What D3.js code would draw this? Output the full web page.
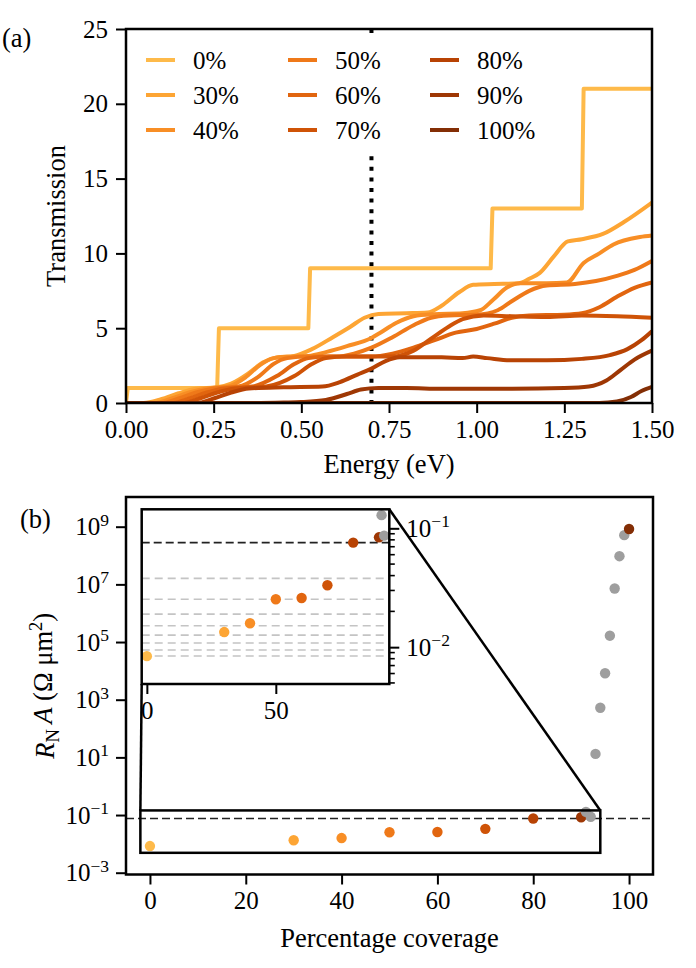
<!DOCTYPE html>
<html>
<head>
<meta charset="utf-8">
<script src="https://cdn.jsdelivr.net/npm/d3@7"></script>
<style>
  body { margin: 0; background: #fff; }
</style>
</head>
<body>
<svg id="fig" width="696" height="968"></svg>
<script>
// ---- data: panel (a), transmission vs energy, [energy (eV), T] ----
const coverageLabels = ["0%", "30%", "40%", "50%", "60%", "70%", "80%", "90%", "100%"];

const trans0 = [[0,0],[0.005,1],[0.26,1],[0.265,5],[0.52,5],[0.525,9],[1.04,9],[1.045,13],[1.30,13],[1.305,21],[1.5,21]];
const trans30 = [[0,0],[0.05,0],[0.1,0.25],[0.15,0.65],[0.2,0.95],[0.26,1.05],[0.3,1.3],[0.35,2.0],[0.39,2.7],[0.43,3.05],[0.48,3.15],[0.53,3.6],[0.59,4.4],[0.64,5.1],[0.68,5.7],[0.72,5.95],[0.8,6.0],[0.86,6.05],[0.9,6.5],[0.95,7.4],[0.99,7.9],[1.05,7.95],[1.12,8.0],[1.15,8.3],[1.18,8.7],[1.22,9.8],[1.26,10.8],[1.3,10.95],[1.36,11.3],[1.42,12.1],[1.5,13.4]];
const trans40 = [[0,0],[0.08,0],[0.13,0.3],[0.18,0.7],[0.23,0.97],[0.29,1.1],[0.34,1.7],[0.38,2.5],[0.42,3.0],[0.47,3.1],[0.52,3.15],[0.57,3.4],[0.63,3.8],[0.7,4.35],[0.724,4.68],[0.77,5.35],[0.82,5.8],[0.876,5.94],[0.96,6.0],[1.01,6.2],[1.047,6.9],[1.085,7.7],[1.124,8.0],[1.2,8.0],[1.257,8.05],[1.305,9.36],[1.35,10.0],[1.39,10.6],[1.466,11.1],[1.5,11.2]];
const trans50 = [[0,0],[0.1,0],[0.15,0.3],[0.2,0.7],[0.25,0.97],[0.32,1.1],[0.38,1.8],[0.42,2.6],[0.46,3.0],[0.52,3.1],[0.6,3.1],[0.65,3.3],[0.7,3.7],[0.76,4.4],[0.82,5.2],[0.87,5.7],[0.92,5.85],[1.0,5.9],[1.06,6.2],[1.1,6.8],[1.15,7.5],[1.2,7.85],[1.28,7.95],[1.34,8.15],[1.4,8.5],[1.45,8.9],[1.5,9.5]];
const trans60 = [[0,0],[0.13,0],[0.18,0.3],[0.23,0.7],[0.28,0.97],[0.36,1.1],[0.43,1.8],[0.48,2.6],[0.52,3.0],[0.58,3.1],[0.7,3.1],[0.76,3.3],[0.82,3.7],[0.88,4.2],[0.94,4.7],[1.0,4.95],[1.05,5.3],[1.1,5.7],[1.15,5.85],[1.25,5.9],[1.3,6.0],[1.35,6.4],[1.4,7.1],[1.45,7.7],[1.5,8.06]];
const trans70 = [[0,0],[0.16,0],[0.21,0.3],[0.26,0.7],[0.31,0.97],[0.4,1.1],[0.48,1.8],[0.53,2.6],[0.57,3.0],[0.63,3.1],[0.76,3.1],[0.82,3.5],[0.87,4.3],[0.92,5.1],[0.96,5.6],[1.02,5.85],[1.1,5.8],[1.2,5.75],[1.3,5.85],[1.4,5.8],[1.5,5.7]];
const trans80 = [[0,0],[0.2,0],[0.25,0.3],[0.3,0.7],[0.35,0.97],[0.45,1.05],[0.56,1.1],[0.61,1.4],[0.66,1.9],[0.7,2.3],[0.74,2.8],[0.78,3.05],[0.9,3.05],[0.96,3.0],[0.99,3.1],[1.03,3.0],[1.1,2.85],[1.2,2.85],[1.3,2.95],[1.38,3.2],[1.43,3.6],[1.47,4.2],[1.5,4.8]];
const trans90 = [[0,0],[0.35,0],[0.45,0.03],[0.5,0.06],[0.57,0.2],[0.63,0.6],[0.67,0.9],[0.72,1.0],[0.8,1.0],[0.9,0.95],[1.1,0.95],[1.25,1.0],[1.32,1.1],[1.37,1.5],[1.41,2.2],[1.45,2.9],[1.5,3.5]];
const trans100 = [[0,0],[1.35,0],[1.4,0.1],[1.44,0.4],[1.47,0.8],[1.5,1.07]];
const transSeries = [trans0, trans30, trans40, trans50, trans60, trans70, trans80, trans90, trans100];

const energyTicks = [0, 0.25, 0.5, 0.75, 1.0, 1.25, 1.5];
const transTicks = [0, 5, 10, 15, 20, 25];
const markerEnergy = 0.70;

// ---- data: panel (b), R_N A vs coverage ----
const coverage = [0, 30, 40, 50, 60, 70, 80, 90, 100];
const rnaValues = [0.0084, 0.0134, 0.0159, 0.0253, 0.0259, 0.0332, 0.0758, 0.084, 8.3e8];
const grayCoverage = [91, 92, 93, 94, 95, 96, 97, 98, 99];
const grayValues = [0.129, 0.0868, 13.2, 525, 8300, 1.66e5, 7.2e6, 9.5e7, 5.1e8];
const refValue = 0.0758;
const refDivisors = [2, 3, 4, 5, 6, 7, 8, 9];
const coverageTicks = [0, 20, 40, 60, 80, 100];
const rnaTicks = [1e-3, 1e-1, 1e1, 1e3, 1e5, 1e7, 1e9];
const insetXTicks = [0, 50];
const insetYTicks = [1e-2, 1e-1];

// ---- setup ----
const svg = d3.select("#fig");
const FONT = "'Liberation Serif', 'DejaVu Serif', serif";
const FS = 25;      // ticks, legend
const FL = 26.5;    // axis labels
const colorT = d3.scaleLinear().domain([0, 8]).range([0.4, 0.93]);
const color = i => d3.interpolateYlOrBr(colorT(i));

function styleAxis(g) {
  g.attr("font-family", null).attr("font-size", null);
  g.select(".domain").remove();
  g.selectAll(".tick line").attr("stroke", "#000").attr("stroke-width", 2);
  g.selectAll(".tick text").attr("fill", "#000");
}
function sciText(sel) {
  sel.each(function (d) {
    const e = Math.round(Math.log10(d));
    const t = d3.select(this);
    t.text("");
    t.append("tspan").text("10");
    t.append("tspan").attr("dy", "-0.55em").style("font-size", "0.7em")
      .text(e < 0 ? "\u2212" + (-e) : e);
  });
}

// ================= panel (a) =================
const A = { left: 126, right: 652, top: 29, bottom: 403 };
const xA = d3.scaleLinear().domain([0, 1.5]).range([A.left, A.right]);
const yA = d3.scaleLinear().domain([0, 25]).range([A.bottom, A.top]);

svg.append("clipPath").attr("id", "clipA").append("rect")
  .attr("x", A.left).attr("y", A.top).attr("width", A.right - A.left).attr("height", A.bottom - A.top);

const gA = svg.append("g");
gA.append("g").attr("transform", `translate(0,${A.bottom})`)
  .call(d3.axisBottom(xA).tickValues(energyTicks).tickFormat(d3.format(".2f")).tickSize(10).tickPadding(7).tickSizeOuter(0))
  .call(styleAxis);
gA.append("g").attr("transform", `translate(${A.left},0)`)
  .call(d3.axisLeft(yA).tickValues(transTicks).tickSize(10).tickPadding(8).tickSizeOuter(0))
  .call(styleAxis);

const lineA = d3.line().x(d => xA(d[0])).y(d => yA(d[1]));
const plotA = gA.append("g").attr("clip-path", "url(#clipA)");

// dotted marker
plotA.append("line")
  .attr("x1", xA(markerEnergy)).attr("x2", xA(markerEnergy))
  .attr("y1", A.top).attr("y2", A.bottom)
  .attr("stroke", "#000").attr("stroke-width", 4).attr("stroke-dasharray", "4,6.6");

transSeries.forEach((s, i) => {
  plotA.append("path").datum(s)
    .attr("fill", "none")
    .attr("stroke", color(i))
    .attr("stroke-width", 4)
    .attr("stroke-linejoin", "round")
    .attr("d", lineA.curve(i === 0 ? d3.curveLinear : d3.curveMonotoneX));
});

// legend
const leg = gA.append("g");
leg.append("rect").attr("x", 136).attr("y", 39).attr("width", 372).attr("height", 114).attr("fill", "#fff");
const legCols = [146, 288, 430];
const legRows = [60, 95, 130];
coverageLabels.forEach((lab, i) => {
  const cx = legCols[Math.floor(i / 3)], cy = legRows[i % 3];
  leg.append("line").attr("x1", cx).attr("x2", cx + 29).attr("y1", cy).attr("y2", cy)
    .attr("stroke", color(i)).attr("stroke-width", 4);
  leg.append("text").attr("class", "tk").attr("x", cx + 47).attr("y", cy).attr("dy", "0.35em").text(lab);
});

gA.append("rect").attr("x", A.left).attr("y", A.top).attr("width", A.right - A.left).attr("height", A.bottom - A.top)
  .attr("fill", "none").attr("stroke", "#000").attr("stroke-width", 2.5);

gA.append("text").attr("class", "lab").attr("x", (A.left + A.right) / 2).attr("y", 473).attr("text-anchor", "middle")
  .text("Energy (eV)");
gA.append("text").attr("class", "lab").attr("transform", `translate(65,${(A.top + A.bottom) / 2}) rotate(-90)`)
  .attr("text-anchor", "middle").text("Transmission");
gA.append("text").attr("class", "lab").attr("x", 2).attr("y", 47).text("(a)");

// ================= panel (b) =================
const B = { left: 126, right: 653, top: 497, bottom: 874.5 };
const xB = d3.scaleLinear().domain([-5, 105]).range([B.left, B.right]);
const yB = d3.scaleLog().domain([Math.pow(10, -3.062), Math.pow(10, 10.03)]).range([B.bottom, B.top]);

svg.append("clipPath").attr("id", "clipB").append("rect")
  .attr("x", B.left).attr("y", B.top).attr("width", B.right - B.left).attr("height", B.bottom - B.top);

const gB = svg.append("g");
gB.append("g").attr("transform", `translate(0,${B.bottom})`)
  .call(d3.axisBottom(xB).tickValues(coverageTicks).tickFormat(d3.format("d")).tickSize(10).tickPadding(7).tickSizeOuter(0))
  .call(styleAxis);
gB.append("g").attr("transform", `translate(${B.left},0)`)
  .call(d3.axisLeft(yB).tickValues(rnaTicks).tickSize(10).tickPadding(7).tickSizeOuter(0))
  .call(styleAxis)
  .call(g => g.selectAll(".tick text").call(sciText));

const plotB = gB.append("g").attr("clip-path", "url(#clipB)");
plotB.append("line").attr("x1", B.left).attr("x2", B.right).attr("y1", yB(refValue)).attr("y2", yB(refValue))
  .attr("stroke", "#222").attr("stroke-width", 1.6).attr("stroke-dasharray", "8,4");

function drawPoints(g, sx, sy) {
  const pts = coverage.map((c, i) => ({ x: c, y: rnaValues[i], i }));
  const grey = grayCoverage.map((c, i) => ({ x: c, y: grayValues[i] }));
  g.selectAll(null).data(pts.slice(0, 8)).join("circle")
    .attr("cx", d => sx(d.x)).attr("cy", d => sy(d.y)).attr("r", 5.2).attr("fill", d => color(d.i));
  g.selectAll(null).data(grey).join("circle")
    .attr("cx", d => sx(d.x)).attr("cy", d => sy(d.y)).attr("r", 5.2).attr("fill", "#9e9e9e");
  g.selectAll(null).data(pts.slice(8)).join("circle")
    .attr("cx", d => sx(d.x)).attr("cy", d => sy(d.y)).attr("r", 5.2).attr("fill", d => color(d.i));
}
drawPoints(plotB, xB, yB);

// inset geometry
const I = { left: 141.7, right: 389.3, top: 509.3, bottom: 684 };
const insetXDomain = [-2, 94];
const insetYDomain = [Math.pow(10, -2.31), Math.pow(10, -0.84)];
const xI = d3.scaleLinear().domain(insetXDomain).range([I.left, I.right]);
const yI = d3.scaleLog().domain(insetYDomain).range([I.bottom, I.top]);

// zoom rectangle and connectors
const rx0 = xB(insetXDomain[0]), rx1 = xB(insetXDomain[1]);
const ry0 = yB(insetYDomain[1]), ry1 = yB(insetYDomain[0]);
gB.append("rect").attr("x", rx0).attr("y", ry0).attr("width", rx1 - rx0).attr("height", ry1 - ry0)
  .attr("fill", "none").attr("stroke", "#000").attr("stroke-width", 2.5);
gB.append("line").attr("x1", I.right).attr("y1", I.top).attr("x2", rx1).attr("y2", ry0)
  .attr("stroke", "#000").attr("stroke-width", 2.5);
gB.append("line").attr("x1", I.left).attr("y1", I.bottom).attr("x2", rx0).attr("y2", ry0)
  .attr("stroke", "#000").attr("stroke-width", 2.5);

svg.append("clipPath").attr("id", "clipI").append("rect")
  .attr("x", I.left).attr("y", I.top).attr("width", I.right - I.left).attr("height", I.bottom - I.top);
const gI = svg.append("g");
gI.append("rect").attr("x", I.left).attr("y", I.top).attr("width", I.right - I.left).attr("height", I.bottom - I.top)
  .attr("fill", "#fff");
const plotI = gI.append("g").attr("clip-path", "url(#clipI)");
refDivisors.forEach(n => {
  plotI.append("line").attr("x1", I.left).attr("x2", I.right).attr("y1", yI(refValue / n)).attr("y2", yI(refValue / n))
    .attr("stroke", "#c4c4c4").attr("stroke-width", 1.6).attr("stroke-dasharray", "8,5");
});
plotI.append("line").attr("x1", I.left).attr("x2", I.right).attr("y1", yI(refValue)).attr("y2", yI(refValue))
  .attr("stroke", "#222").attr("stroke-width", 1.6).attr("stroke-dasharray", "8,4");
drawPoints(plotI, xI, yI);

gI.append("g").attr("transform", `translate(0,${I.bottom})`)
  .call(d3.axisBottom(xI).tickValues(insetXTicks).tickFormat(d3.format("d")).tickSize(10).tickPadding(7).tickSizeOuter(0))
  .call(styleAxis);
gI.append("g").attr("transform", `translate(${I.right},0)`)
  .call(d3.axisRight(yI).tickValues(insetYTicks).tickSize(10).tickPadding(7).tickSizeOuter(0))
  .call(styleAxis)
  .call(g => g.selectAll(".tick text").call(sciText));
const minorI = yI.ticks().filter(v => insetYTicks.indexOf(v) < 0);
gI.append("g").selectAll("line").data(minorI).join("line")
  .attr("x1", I.right).attr("x2", I.right + 5.5).attr("y1", d => yI(d)).attr("y2", d => yI(d))
  .attr("stroke", "#000").attr("stroke-width", 1.6);
gI.append("rect").attr("x", I.left).attr("y", I.top).attr("width", I.right - I.left).attr("height", I.bottom - I.top)
  .attr("fill", "none").attr("stroke", "#000").attr("stroke-width", 2.5);

gB.append("rect").attr("x", B.left).attr("y", B.top).attr("width", B.right - B.left).attr("height", B.bottom - B.top)
  .attr("fill", "none").attr("stroke", "#000").attr("stroke-width", 2.5);

svg.append("text").attr("class", "lab").attr("x", (B.left + B.right) / 2).attr("y", 947).attr("text-anchor", "middle")
  .text("Percentage coverage");
const yl = svg.append("text").attr("class", "lab").attr("transform", `translate(54,${(B.top + B.bottom) / 2}) rotate(-90)`)
  .attr("text-anchor", "middle");
yl.append("tspan").style("font-style", "italic").text("R");
yl.append("tspan").attr("dy", "0.25em").style("font-size", "0.7em").text("N");
yl.append("tspan").attr("dy", "-0.25em").style("font-style", "italic").text("\u2009A");
yl.append("tspan").text(" (\u03A9 \u03BCm");
yl.append("tspan").attr("dy", "-0.55em").style("font-size", "0.7em").text("2");
yl.append("tspan").attr("dy", "0.385em").text(")");
svg.append("text").attr("class", "lab").attr("x", 20).attr("y", 528).text("(b)");

// one serif face for every label
svg.selectAll("text").style("font-family", FONT).style("font-size", function () {
  return (this.getAttribute("class") === "lab" ? FL : FS) + "px";
});
</script>
</body>
</html>
